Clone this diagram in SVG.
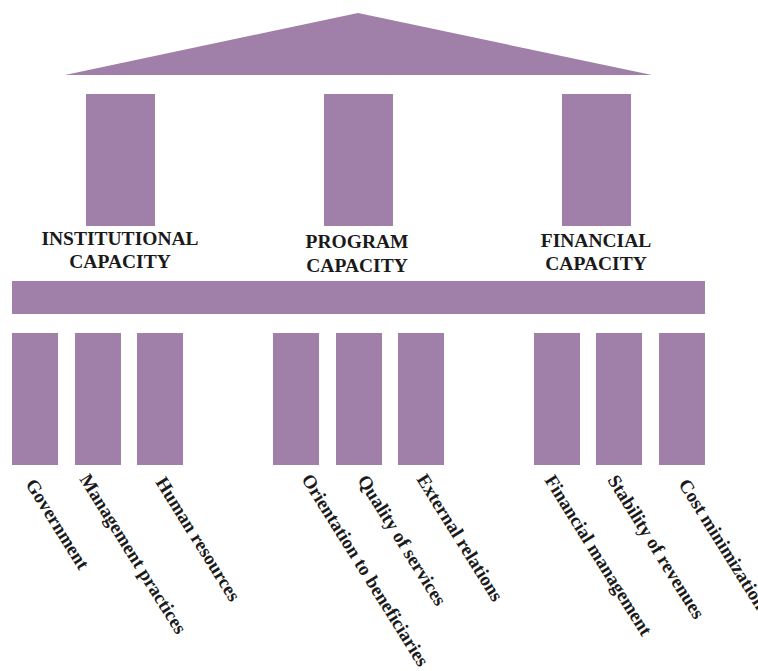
<svg xmlns="http://www.w3.org/2000/svg" width="758" height="671" viewBox="0 0 758 671">
<style>
.s{fill:#a07fa8}
.h{font-family:'Liberation Serif','Times New Roman','DejaVu Serif',serif;font-weight:700;font-size:19.5px;fill:#1a1a1a;text-anchor:middle}
.l{font-family:'Liberation Serif','Times New Roman','DejaVu Serif',serif;font-weight:700;font-size:19px;fill:#1a1a1a}
</style>
<rect width="758" height="671" fill="#fff"/>
<g id="roof"><polygon class="s" points="358,13 652,75 65,75"/></g>
<g id="pillar-institutional"><rect class="s" x="86" y="94" width="69" height="132"/>
<text class="h" x="120" y="245">INSTITUTIONAL</text><text class="h" x="120" y="267.5">CAPACITY</text></g>
<g id="pillar-program"><rect class="s" x="324" y="94" width="69" height="132"/>
<text class="h" x="357" y="248">PROGRAM</text><text class="h" x="357" y="271.5">CAPACITY</text></g>
<g id="pillar-financial"><rect class="s" x="562" y="94" width="69" height="132"/>
<text class="h" x="596" y="246.5">FINANCIAL</text><text class="h" x="596" y="269.5">CAPACITY</text></g>
<g id="beam"><rect class="s" x="12" y="281" width="693" height="33"/></g>
<g id="connectors"></g>
<g id="c1"><rect class="s" x="12" y="333" width="46" height="132"/><text class="l" transform="translate(25,484) rotate(58)">Government</text></g>
<g id="c2"><rect class="s" x="75" y="333" width="46" height="132"/><text class="l" transform="translate(79,479) rotate(58)">Management practices</text></g>
<g id="c3"><rect class="s" x="137" y="333" width="46" height="132"/><text class="l" transform="translate(155,482) rotate(58)">Human resources</text></g>
<g id="c4"><rect class="s" x="273" y="333" width="46" height="132"/><text class="l" transform="translate(301,479) rotate(58)">Orientation to beneficiaries</text></g>
<g id="c5"><rect class="s" x="336" y="333" width="46" height="132"/><text class="l" transform="translate(357,480) rotate(58)">Quality of services</text></g>
<g id="c6"><rect class="s" x="398" y="333" width="46" height="132"/><text class="l" transform="translate(416,479) rotate(58)">External relations</text></g>
<g id="c7"><rect class="s" x="534" y="333" width="46" height="132"/><text class="l" transform="translate(544,480) rotate(58)">Financial management</text></g>
<g id="c8"><rect class="s" x="596" y="333" width="46" height="132"/><text class="l" transform="translate(607,480) rotate(58)">Stability of revenues</text></g>
<g id="c9"><rect class="s" x="659" y="333" width="46" height="132"/><text class="l" transform="translate(678,484) rotate(58)">Cost minimization</text></g>
</svg>
